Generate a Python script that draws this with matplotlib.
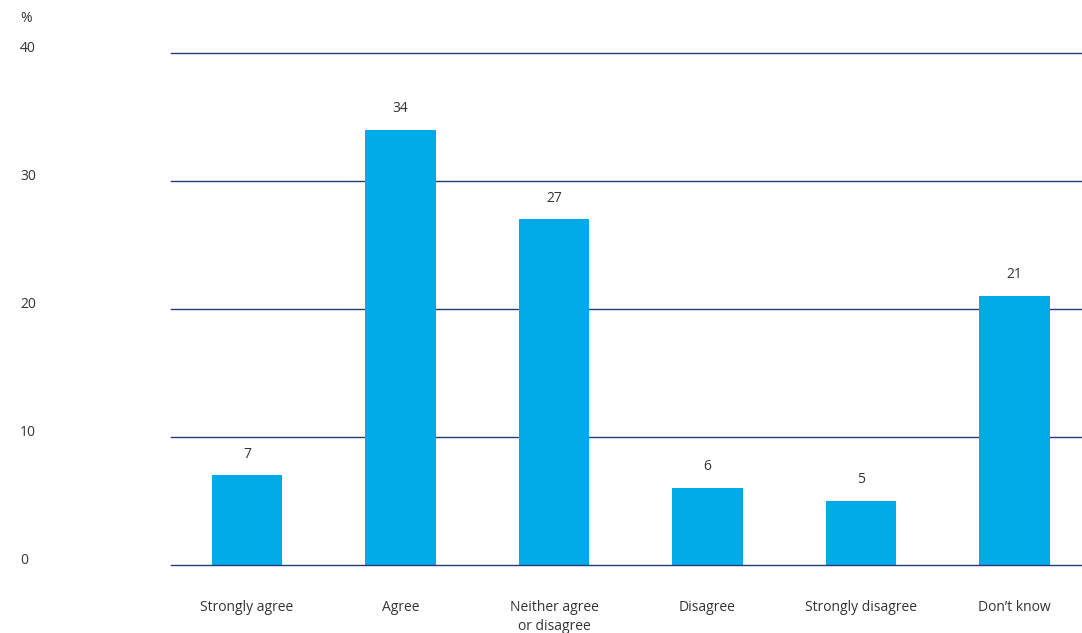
import matplotlib.pyplot as plt
from matplotlib.transforms import blended_transform_factory

categories = ["Strongly agree", "Agree", "Neither agree\nor disagree",
              "Disagree", "Strongly disagree", "Don\u2019t know"]
values = [7, 34, 27, 6, 5, 21]
yticks = [0, 10, 20, 30, 40]

plt.rcParams['font.family'] = ['Open Sans', 'DejaVu Sans']
text_col = '#333333'
bar_col = '#00ABE7'
grid_col = '#233C78'

fig = plt.figure(figsize=(10.82, 6.33), dpi=100)
ax = fig.add_axes([171 / 1082, 1 - 565 / 633, (1082 - 171) / 1082, (565 - 53) / 633])

x = list(range(len(categories)))
ax.bar(x, values, width=0.46, color=bar_col, zorder=3)

for xi, v in zip(x, values):
    ax.annotate(str(v), (xi, v), xytext=(0, 10), textcoords='offset points',
                ha='center', va='bottom', fontsize=10, color=text_col)

ax.set_xlim(-0.495, 5.44)
ax.set_ylim(0, 40)

for t in yticks:
    ax.axhline(t, color=grid_col, lw=1, zorder=4 if t == 0 else 2, clip_on=False)

# y labels sit at the far left of the figure
trans = blended_transform_factory(fig.transFigure, ax.transData)
for t in yticks:
    ax.annotate(str(t), (20 / 1082, t), xycoords=trans, xytext=(0, 3),
                textcoords='offset points', ha='left', va='center',
                fontsize=10, color=text_col, annotation_clip=False)
fig.text(20 / 1082, 1 - 19 / 633, '%', ha='left', va='center', fontsize=10, color=text_col)

ax.set_yticks([])
ax.set_xticks(x)
ax.set_xticklabels(categories, fontsize=10, color=text_col, linespacing=1.35)
ax.tick_params(axis='x', length=0, pad=25)
for s in ax.spines.values():
    s.set_visible(False)

fig.savefig('out.png', dpi=100)
